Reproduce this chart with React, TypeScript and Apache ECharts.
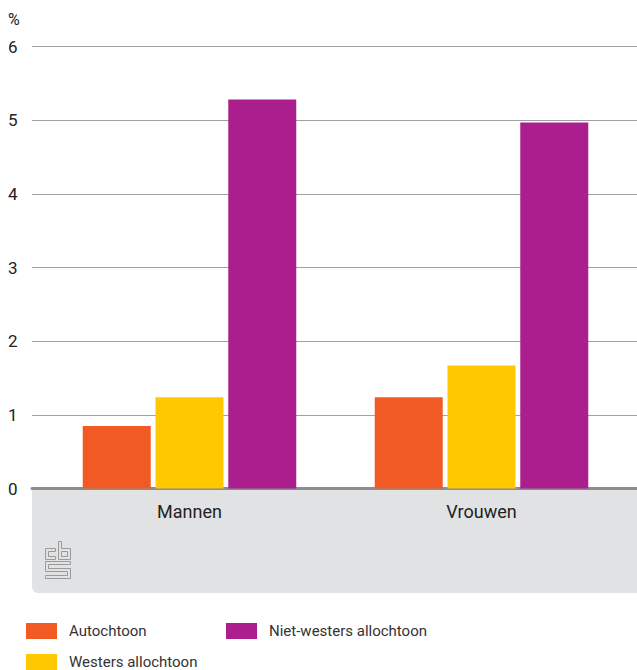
import React, { useEffect, useRef } from "react";
import * as echarts from "echarts";

const categories = ["Mannen", "Vrouwen"];
const seriesNames = ["Autochtoon", "Westers allochtoon", "Niet-westers allochtoon"];
const autochtoon = [0.85, 1.24];
const westers = [1.24, 1.67];
const nietWesters = [5.28, 4.97];
const yTicks = [0, 1, 2, 3, 4, 5, 6];
const colors = ["#f15a22", "#ffc800", "#aa1f8d"];

const logoPath =
  "M10 7 H0 V18 H10 V15 H3 V10 H10 Z M13 0 V18 H25 V7 H16 V0 Z M16 10 H22 V15 H16 Z M25 20 H0 V30 H22 V34 H0 V37 H25 V27 H3 V23 H25 Z";

let registered = false;

export default function App() {
  const ref = useRef<HTMLDivElement>(null);
  useEffect(() => {
    document.body.style.margin = "0";
    if (!registered) {
      echarts.graphic.registerShape("cbslogo", echarts.graphic.extendPath(logoPath, {}));
      registered = true;
    }
    const chart = echarts.init(ref.current!, null, { renderer: "svg" });
    const values = [autochtoon, westers, nietWesters];
    const legendPos = [
      { left: 26, top: 623 },
      { left: 26, top: 654 },
      { left: 226, top: 623 },
    ];
    chart.setOption({
      animation: false,
      grid: [
        { left: 32, right: 0, top: 46.5, bottom: 181.5 },
        { left: 43.5, width: 584, top: 46.5, bottom: 181.5 },
      ],
      xAxis: [
        {
          gridIndex: 0,
          type: "category",
          data: [""],
          axisLine: { show: true, lineStyle: { color: "#8b8d8f", width: 3 } },
          axisTick: { show: false },
          axisLabel: { show: false },
        },
        {
          gridIndex: 1,
          type: "category",
          data: categories,
          axisLine: { show: false },
          axisTick: { show: false },
          axisLabel: { color: "#222", fontSize: 18, fontFamily: "Roboto", margin: 14 },
        },
      ],
      yAxis: [
        {
          gridIndex: 0,
          type: "value",
          min: 0,
          max: 6,
          interval: 1,
          axisLine: { show: false },
          axisTick: { show: false },
          splitLine: { lineStyle: { color: "#a0a0a0", width: 1 } },
          axisLabel: {
            align: "left",
            margin: 24,
            fontSize: 17,
            fontFamily: "Roboto",
            color: "#222",
            formatter: (v: number) => (yTicks.includes(v) ? String(v) : ""),
          },
        },
        { gridIndex: 1, type: "value", min: 0, max: 6, interval: 1, show: false },
      ],
      legend: seriesNames.map((name, i) => ({
        orient: "horizontal",
        left: legendPos[i].left,
        top: legendPos[i].top,
        data: [name],
        itemWidth: 31,
        itemHeight: 16,
        icon: "rect",
        padding: 0,
        textStyle: {
          fontSize: 15,
          fontFamily: "Roboto",
          color: "#333",
          lineHeight: 16,
          padding: [0, 0, 0, 7],
        },
      })),
      graphic: [
        {
          type: "rect",
          z: -10,
          shape: { x: 32, y: 490, width: 605, height: 103, r: [0, 0, 0, 6] },
          style: { fill: "#e1e2e4" },
        },
        {
          type: "text",
          left: 8,
          top: 11,
          style: { text: "%", fontSize: 16, fontFamily: "Roboto", fill: "#222" },
        },
        {
          type: "cbslogo",
          x: 45.5,
          y: 541.5,
          scaleX: 1,
          scaleY: 1,
          style: { fill: "none", stroke: "#9a9a9a", lineWidth: 1 },
        },
      ],
      series: seriesNames.map((name, i) => ({
        name,
        type: "bar",
        xAxisIndex: 1,
        yAxisIndex: 1,
        data: values[i],
        barWidth: 68,
        barGap: "7%",
        itemStyle: { color: colors[i] },
      })),
    });
    return () => chart.dispose();
  }, []);
  return <div ref={ref} style={{ width: 637, height: 670 }} />;
}
